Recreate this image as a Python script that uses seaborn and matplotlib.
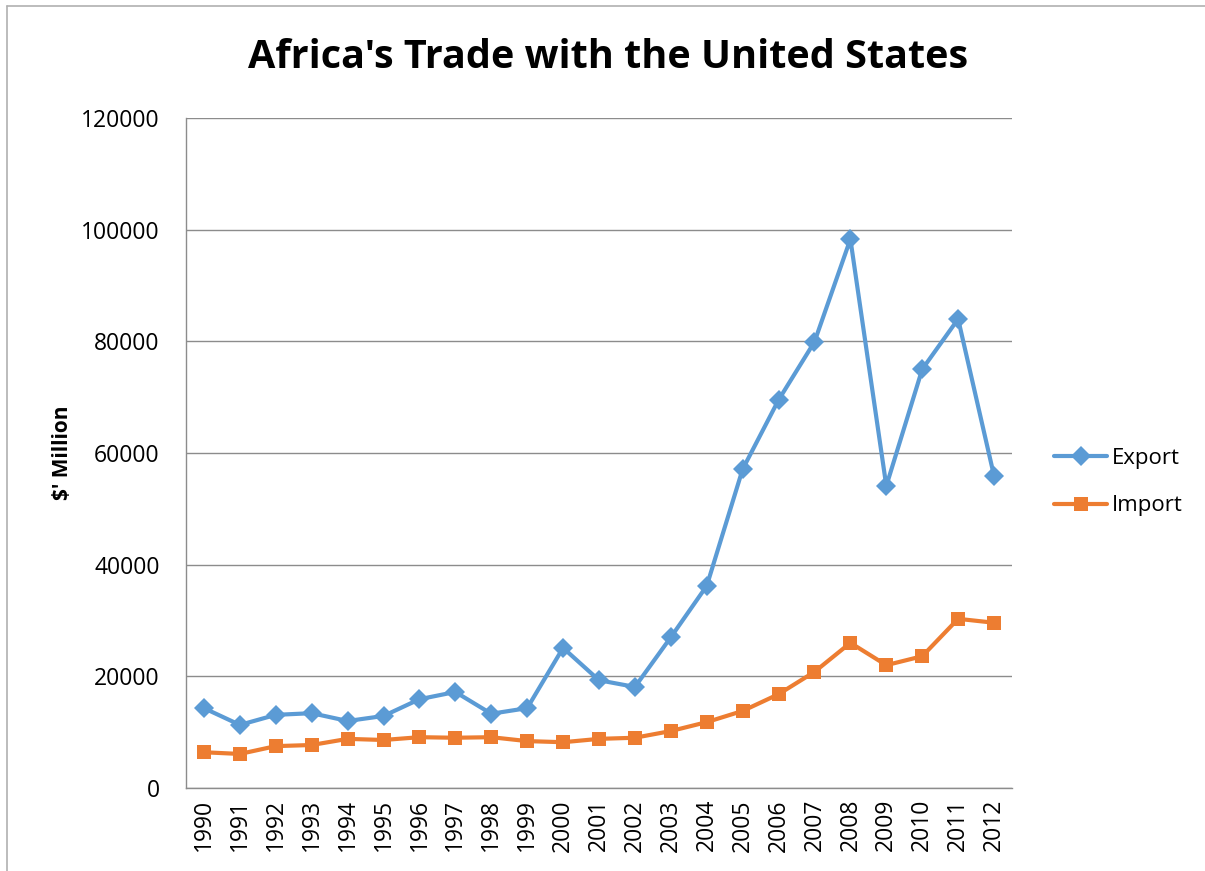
import pandas as pd
import seaborn as sns
import matplotlib.pyplot as plt
from matplotlib.lines import Line2D

years = [str(y) for y in range(1990, 2013)]
export_vals = [14300, 11300, 13100, 13400, 12000, 12900, 15900, 17200, 13300, 14300,
               25100, 19300, 18100, 27000, 36200, 57100, 69500, 79900, 98300, 54100,
               75000, 84000, 55900]
import_vals = [6400, 6100, 7500, 7700, 8800, 8600, 9100, 9000, 9100, 8400,
               8200, 8800, 9000, 10200, 11800, 13800, 16800, 20800, 26000, 22000,
               23600, 30300, 29600]

df = pd.DataFrame({
    'pos': list(range(len(years))) * 2,
    'value': export_vals + import_vals,
    'series': ['Export'] * len(years) + ['Import'] * len(years),
})

sns.set_style('white')
plt.rcParams['font.family'] = ['Open Sans', 'DejaVu Sans']
plt.rcParams['text.color'] = 'black'
plt.rcParams['axes.labelcolor'] = 'black'

fig = plt.figure(figsize=(12.05, 8.71), dpi=100)
ax = fig.add_axes([186 / 1205, 1 - 788 / 871, (1012 - 186) / 1205, (788 - 118) / 871])

palette = {'Export': '#5B9BD5', 'Import': '#ED7D31'}
lw, ms = 3.0, 10
sns.lineplot(data=df, x='pos', y='value', hue='series', style='series',
             markers={'Export': 'D', 'Import': 's'}, dashes=False,
             palette=palette, linewidth=lw, markersize=ms,
             markeredgewidth=0, ax=ax, legend=False)

ax.set_xlim(-0.5, len(years) - 0.5)
ax.set_ylim(0, 120000)
ax.set_yticks(range(0, 120001, 20000))
ax.set_xticks(range(len(years)))
ax.set_xticklabels(years, rotation=90)
ax.tick_params(axis='both', length=0, labelsize=16.5, colors='black')
ax.tick_params(axis='y', pad=19)
ax.tick_params(axis='x', pad=8)
ax.grid(axis='y', color='#8c8c8c', linewidth=1.0)
ax.set_axisbelow(True)
for s in ['top', 'right']:
    ax.spines[s].set_visible(False)
for s in ['left', 'bottom']:
    ax.spines[s].set_color('#8c8c8c')
    ax.spines[s].set_linewidth(1.0)
ax.set_xlabel('')
ax.set_ylabel("$' Million", fontsize=15, fontweight='bold', labelpad=6)

fig.text(608 / 1205, 1 - 58 / 871, "Africa's Trade with the United States",
         ha='center', va='center', fontsize=28.5, fontweight='bold', color='black')

handles = [
    Line2D([], [], color='#5B9BD5', marker='D', linewidth=lw, markersize=ms, markeredgewidth=0),
    Line2D([], [], color='#ED7D31', marker='s', linewidth=lw, markersize=ms, markeredgewidth=0),
]
fig.legend(handles, ['Export', 'Import'], loc='center left',
           bbox_to_anchor=(1034 / 1205, 1 - 482 / 871), frameon=False,
           fontsize=16, handlelength=2.4, handletextpad=0.2, labelspacing=1.2)

# chart frame
fig.add_artist(Line2D([7 / 1205, 7 / 1205], [0, 1 - 6 / 871], transform=fig.transFigure,
                      color='#b0b0b0', linewidth=1.2))
fig.add_artist(Line2D([7 / 1205, 1], [1 - 6 / 871, 1 - 6 / 871], transform=fig.transFigure,
                      color='#b0b0b0', linewidth=1.2))

fig.savefig('out.png', dpi=100)
